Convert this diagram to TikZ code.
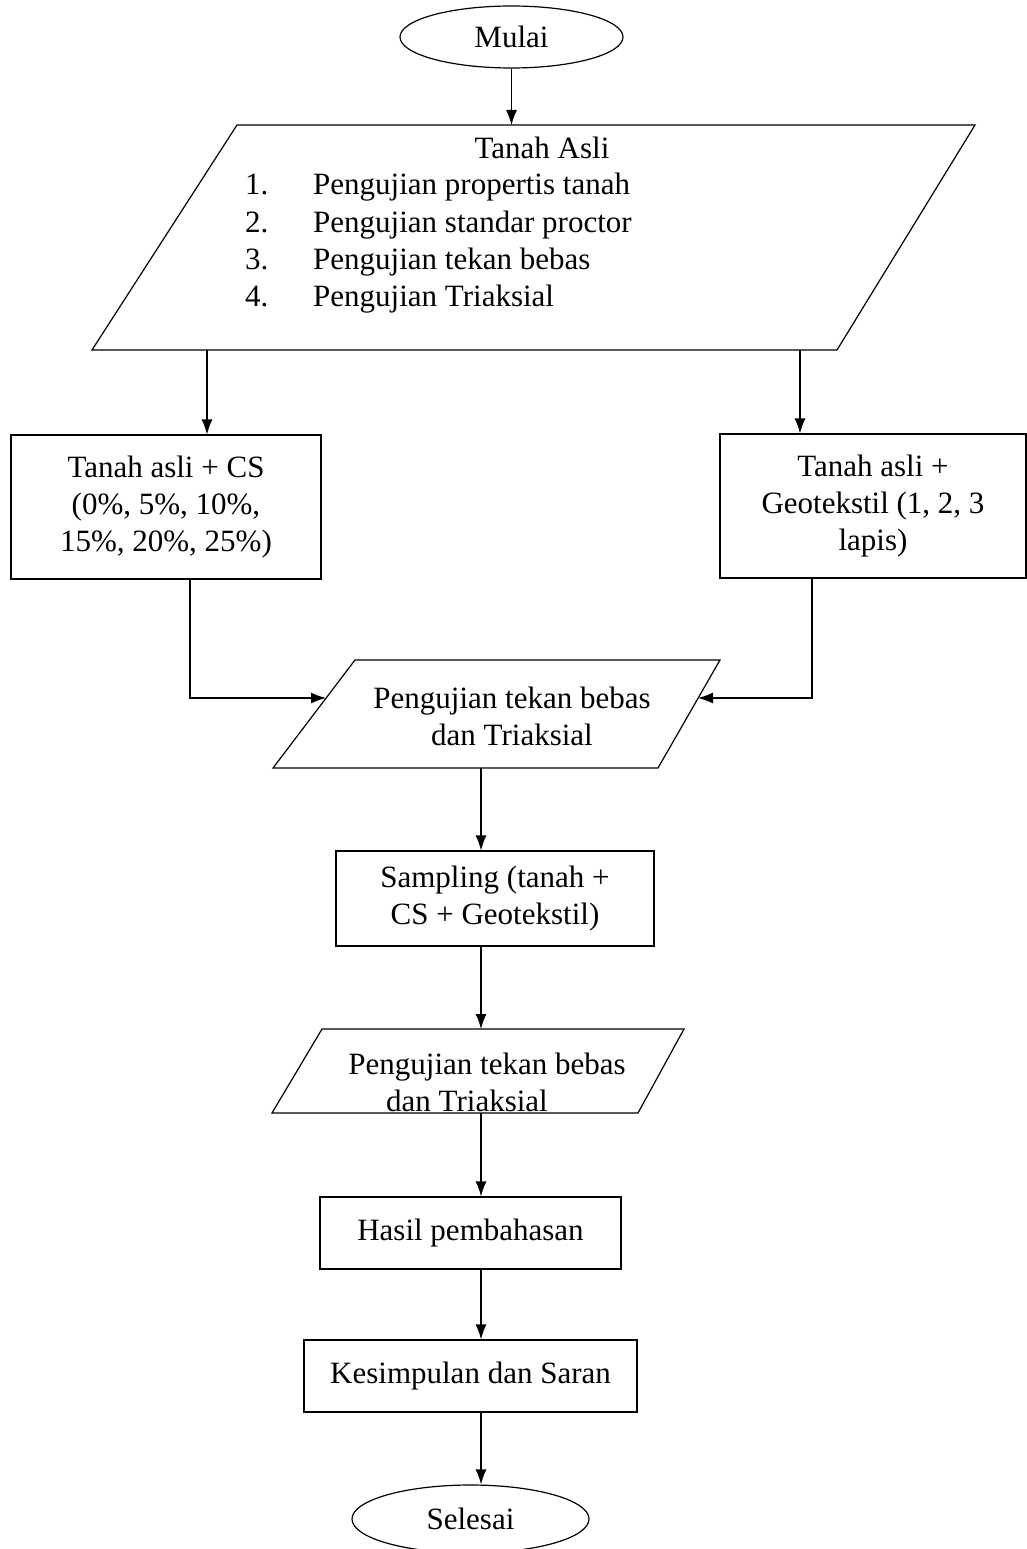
\documentclass[tikz,border=0pt]{standalone}
\usepackage{fontspec}
\setmainfont{Liberation Serif}
\usetikzlibrary{shapes.geometric,arrows.meta,calc}
\begin{document}
\begin{tikzpicture}[x=1pt,y=-1pt,
  every node/.style={font=\fontsize{31}{37}\selectfont},
  box/.style={draw,line width=1.2pt,rectangle,inner sep=0,align=center},
  term/.style={draw,line width=1.2pt,ellipse,inner sep=0},
  shapeline/.style={line width=1.2pt,line join=miter},
  arr/.style={line width=1.2pt,-{Latex[length=15pt,width=11pt]}},
  txt/.style={inner sep=0,align=center},
  item/.style={inner sep=0,anchor=base west}]
\useasboundingbox (0,0) rectangle (1027,1549);
\fill[white] (0,0) rectangle (1027,1549);

% Start
\node[term, minimum width=223pt, minimum height=62pt] (mulai) at (511.5,37) {Mulai};

% Big parallelogram
\coordinate (a1) at (237,125);
\coordinate (a2) at (975,125);
\coordinate (a3) at (837,350);
\coordinate (a4) at (92,350);
\draw[shapeline] (a1) -- (a2) -- (a3) -- (a4) -- cycle;
\coordinate (atop) at (511.5,125);
\coordinate (abl) at (207,350);
\coordinate (abr) at (800,350);
\node[txt] (asli) at (542,148) {Tanah Asli};
\node[item] (n1) at (245,195) {1.};
\node[item] (i1) at (313,195) {Pengujian propertis tanah};
\node[item] (n2) at (245,232) {2.};
\node[item] (i2) at (313,232) {Pengujian standar proctor};
\node[item] (n3) at (245,269) {3.};
\node[item] (i3) at (313,269) {Pengujian tekan bebas};
\node[item] (n4) at (245,306) {4.};
\node[item] (i4) at (313,306) {Pengujian Triaksial};
\draw[arr] (mulai.south) -- (atop);

% Two branches
\node[box, minimum width=310pt, minimum height=144pt] (lbox) at (166,507)
  {Tanah asli + CS\\(0\%, 5\%, 10\%,\\15\%, 20\%, 25\%)};
\node[box, minimum width=306pt, minimum height=144pt] (rbox) at (873,506)
  {Tanah asli +\\Geotekstil (1, 2, 3\\lapis)};
\draw[arr] (abl) -- (abl |- lbox.north);
\draw[arr] (abr) -- (abr |- rbox.north);

% Parallelogram 1
\coordinate (b1) at (355,660);
\coordinate (b2) at (720,660);
\coordinate (b3) at (658,768);
\coordinate (b4) at (273,768);
\draw[shapeline] (b1) -- (b2) -- (b3) -- (b4) -- cycle;
\coordinate (bl) at (326,698);
\coordinate (br) at (698,698);
\coordinate (bb) at (481,768);
\node[txt] (p1) at (512,716) {Pengujian tekan bebas\\dan Triaksial};
\draw[arr] ([xshift=24pt]lbox.south) |- (bl);
\draw[arr] ([xshift=-61pt]rbox.south) |- (br);

% Sampling
\node[box, minimum width=318pt, minimum height=95pt] (samp) at (495,898.5)
  {Sampling (tanah +\\CS + Geotekstil)};
\draw[arr] (bb) -- (bb |- samp.north);

% Parallelogram 2
\coordinate (c1) at (322,1029);
\coordinate (c2) at (684,1029);
\coordinate (c3) at (638,1113);
\coordinate (c4) at (272,1113);
\draw[shapeline] (c1) -- (c2) -- (c3) -- (c4) -- cycle;
\coordinate (ct) at (481,1029);
\coordinate (cb) at (481,1113);
\node[txt] (p2) at (487,1082) {Pengujian tekan bebas\\dan Triaksial\rule{40pt}{0pt}};
\draw[arr] (bb |- samp.south) -- (ct);

% Results, conclusion, end
\node[box, minimum width=301pt, minimum height=72pt] (hasil) at (470.5,1233) {Hasil pembahasan};
\draw[arr] (cb) -- (cb |- hasil.north);
\node[box, minimum width=333pt, minimum height=72pt] (kes) at (470.5,1376) {Kesimpulan dan Saran};
\draw[arr] (cb |- hasil.south) -- (cb |- kes.north);
\node[term, minimum width=237pt, minimum height=68pt] (sel) at (470.5,1519) {Selesai};
\draw[arr] (cb |- kes.south) -- (cb |- sel.north);
\end{tikzpicture}
\end{document}
